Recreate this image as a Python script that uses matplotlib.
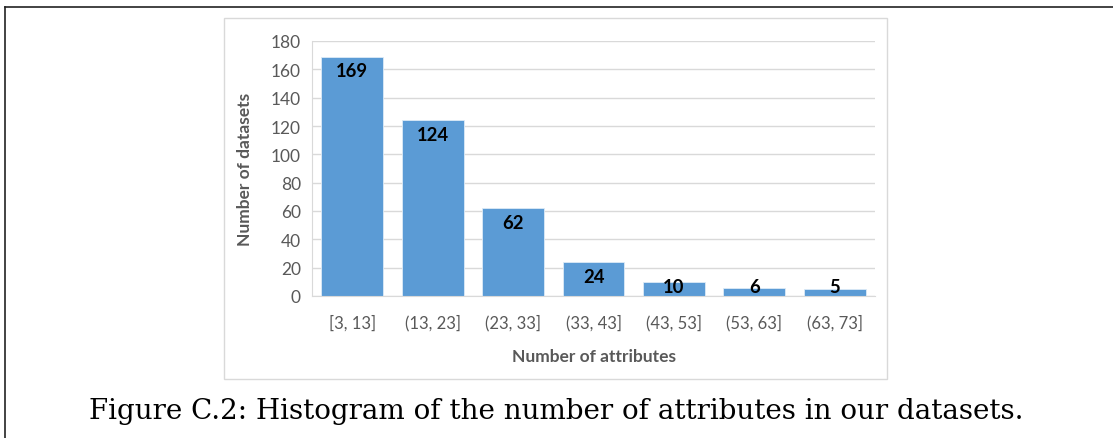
import matplotlib.pyplot as plt
from matplotlib.patches import Rectangle
from matplotlib.lines import Line2D

# histogram data
bins = ['[3, 13]', '(13, 23]', '(23, 33]', '(33, 43]', '(43, 53]', '(53, 63]', '(63, 73]']
counts = [169, 124, 62, 24, 10, 6, 5]
yticks = [0, 20, 40, 60, 80, 100, 120, 140, 160, 180]

caption = 'Figure C.2: Histogram of the number of attributes in our datasets.'

W, H = 1113, 439
fig = plt.figure(figsize=(W / 100, H / 100), dpi=100)
fig.patch.set_facecolor('white')

# page-like border (top + left)
fig.add_artist(Line2D([4.5 / W, 1], [1 - 7.5 / H, 1 - 7.5 / H], color='#222222', lw=1.2))
fig.add_artist(Line2D([4.5 / W, 4.5 / W], [0, 1 - 7.5 / H], color='#222222', lw=1.2))

# excel chart frame
fig.add_artist(Rectangle((224 / W, 1 - 380 / H), 663 / W, 361 / H, transform=fig.transFigure,
                         fill=False, edgecolor='#D9D9D9', lw=1.0))

ax = fig.add_axes([312 / W, 1 - 297 / H, 563 / W, 255 / H])
x = range(len(bins))
ax.bar(x, counts, width=0.77, color='#5B9BD5', edgecolor='#DDEBF7', linewidth=0.6, zorder=2)

ax.set_xlim(-0.5, len(bins) - 0.5)
ax.set_ylim(0, 180)
ax.set_yticks(yticks)
ax.grid(axis='y', color='#D9D9D9', lw=1.0, zorder=0)
ax.set_axisbelow(True)

for s in ['top', 'right']:
    ax.spines[s].set_visible(False)
ax.spines['left'].set_color('#D9D9D9')
ax.spines['bottom'].set_color('#D9D9D9')
ax.tick_params(length=0)
ax.tick_params(axis='y', pad=8, labelsize=12.5, labelcolor='#595959')
ax.tick_params(axis='x', pad=13, labelsize=12, labelcolor='#595959')
ax.set_xticks(list(x))
ax.set_xticklabels(bins)
for lab in ax.get_xticklabels() + ax.get_yticklabels():
    lab.set_fontfamily('Lato')

# value labels at inside end
for i, v in enumerate(counts):
    ax.text(i, max(v - 9.9, 6.4), str(v), ha='center', va='center',
            fontsize=13.3, fontweight='bold', family='Lato', color='black', zorder=3)

fig.text(593.5 / W, 1 - 357 / H, 'Number of attributes', ha='center', va='center',
         fontsize=12.5, fontweight='bold', family='Lato', color='#595959')
fig.text(245 / W, 1 - 169 / H, 'Number of datasets', ha='center', va='center', rotation=90,
         fontsize=12.5, fontweight='bold', family='Lato', color='#595959')

fig.text(556 / W, 1 - 419 / H, caption, ha='center', va='baseline',
         fontsize=20, family='DejaVu Serif', color='black')

fig.savefig('out.png', dpi=100, facecolor='white')
